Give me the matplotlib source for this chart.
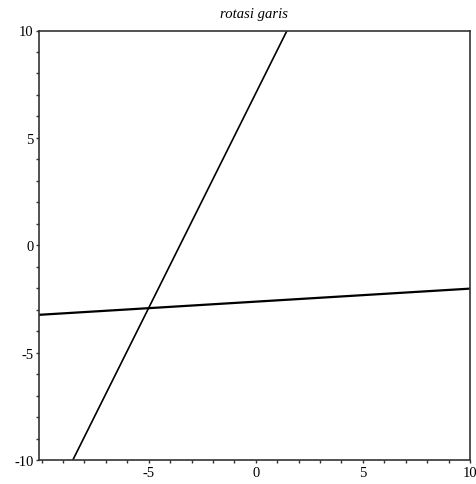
import matplotlib
matplotlib.use("Agg")
import matplotlib.pyplot as plt
import numpy as np
from matplotlib.ticker import MultipleLocator, FixedLocator

# garis asal dan garis hasil rotasi (titik ujung)
LINE_STEEP_X = [-8.54, 1.46]
LINE_STEEP_Y = [-10.0, 10.0]
LINE_FLAT_X = [-10.12, 10.0]
LINE_FLAT_Y = [-3.24, -2.02]

X_TICKS = [-5, 0, 5, 10]
X_TICK_LABELS = ["-5", "0", "5", "10"]
Y_TICKS = [-10, -5, 0, 5, 10]
Y_TICK_LABELS = ["-10", "-5", "0", "5", "10"]
TITLE = "rotasi garis"

plt.rcParams["font.family"] = ["Liberation Serif", "DejaVu Serif"]

fig = plt.figure(figsize=(4.76, 4.85), dpi=100)
ax = fig.add_axes([39 / 476, 24 / 485, 431 / 476, 429.5 / 485])

ax.plot(LINE_STEEP_X, LINE_STEEP_Y, color="black", linewidth=1.2, solid_capstyle="butt")
ax.plot(LINE_FLAT_X, LINE_FLAT_Y, color="black", linewidth=1.6, solid_capstyle="butt")

ax.set_xlim(-10.12, 10)
ax.set_ylim(-10, 10)

ax.xaxis.set_major_locator(FixedLocator(X_TICKS))
ax.yaxis.set_major_locator(FixedLocator(Y_TICKS))
ax.set_xticklabels(X_TICK_LABELS)
ax.set_yticklabels(Y_TICK_LABELS)
ax.xaxis.set_minor_locator(FixedLocator(np.arange(-10, 11, 1)))
ax.yaxis.set_minor_locator(MultipleLocator(1))
ax.tick_params(which="both", direction="out", length=2.5, width=1.0,
               color="#333333", labelsize=10.5, pad=1.5)

for side in ax.spines.values():
    side.set_color("#333333")
    side.set_linewidth(1.2)

ax.set_title(TITLE, fontstyle="italic", fontsize=10.5, pad=10)

fig.savefig("out.png", dpi=100)
